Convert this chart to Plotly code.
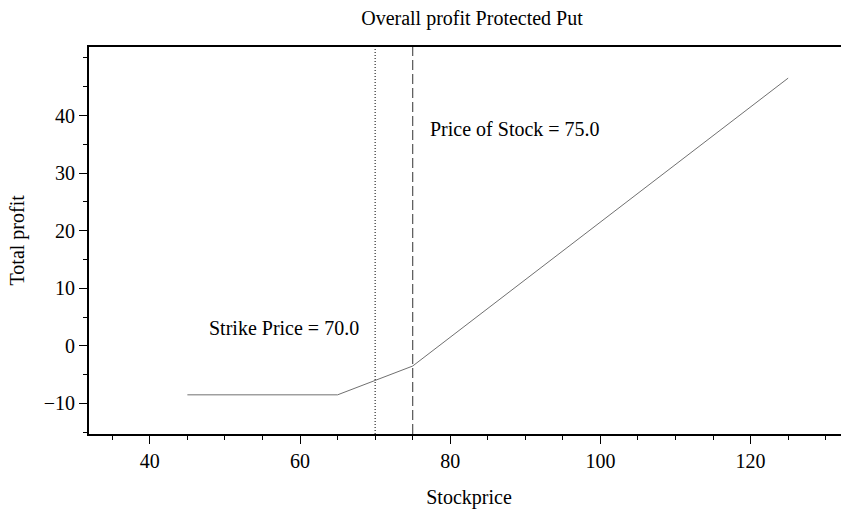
import plotly.graph_objects as go

# payoff of the protected put
stock_price = [45, 65, 75, 125]
total_profit = [-8.5, -8.5, -3.5, 46.5]

strike = 70.0
spot = 75.0

x_ticks = [40, 60, 80, 100, 120]
y_ticks = [-10, 0, 10, 20, 30, 40]

serif = "Liberation Serif, Times New Roman, serif"
fsize = 20

# the page body adds an 8px margin, so the figure is sized 8px smaller
W, H = 841, 501
L, T, B = 81, 39, 75

fig = go.Figure()
fig.add_trace(go.Scatter(
    x=stock_price, y=total_profit, mode="lines",
    line=dict(color="#707070", width=1), showlegend=False,
))

# strike (dotted) and stock price (dashed) markers
fig.add_vline(x=strike, line=dict(color="black", width=1, dash="1px,2px"))
fig.add_vline(x=spot, line=dict(color="#555555", width=1.2, dash="10px,4px"))

fig.add_annotation(x=77.0, y=37.6, text=f"Price of Stock = {spot:.1f}",
                   showarrow=False, xanchor="left", yanchor="middle",
                   font=dict(size=fsize, family=serif, color="black"))
fig.add_annotation(x=47.6, y=3.1, text=f"Strike Price = {strike:.1f}",
                   showarrow=False, xanchor="left", yanchor="middle",
                   font=dict(size=fsize, family=serif, color="black"))

# y axis title placed by hand
fig.add_annotation(xref="paper", yref="paper", x=(9 - L) / (W - L), y=0.5,
                   text="Total profit", textangle=-90, showarrow=False,
                   xanchor="center", yanchor="middle",
                   font=dict(size=fsize, family=serif, color="black"))

fig.update_layout(
    width=W, height=H,
    margin=dict(l=L, r=0, t=T, b=B, autoexpand=False),
    plot_bgcolor="white", paper_bgcolor="white",
    font=dict(family=serif, color="black"),
    title=dict(text="Overall profit Protected Put", x=464 / W, xanchor="center",
               y=1 - 10 / H, yanchor="middle", font=dict(size=fsize, family=serif)),
)
fig.update_xaxes(
    range=[31.9, 133.1], tickvals=x_ticks, showgrid=False, zeroline=False,
    showline=True, linecolor="black", linewidth=2, mirror=True, automargin=False,
    ticks="outside", ticklen=8, tickcolor="black",
    minor=dict(dtick=5, ticks="outside", ticklen=4, tickcolor="black"),
    tickfont=dict(size=fsize, family=serif),
    title=dict(text="Stockprice", font=dict(size=fsize, family=serif), standoff=20),
)
fig.update_yaxes(
    range=[-15.3, 51.9], tickvals=y_ticks, showgrid=False, zeroline=False,
    showline=True, linecolor="black", linewidth=2, automargin=False,
    ticks="outside", ticklen=8, tickcolor="black",
    minor=dict(dtick=5, ticks="outside", ticklen=4, tickcolor="black"),
    tickfont=dict(size=fsize, family=serif),
)

fig.write_html("out.html")
